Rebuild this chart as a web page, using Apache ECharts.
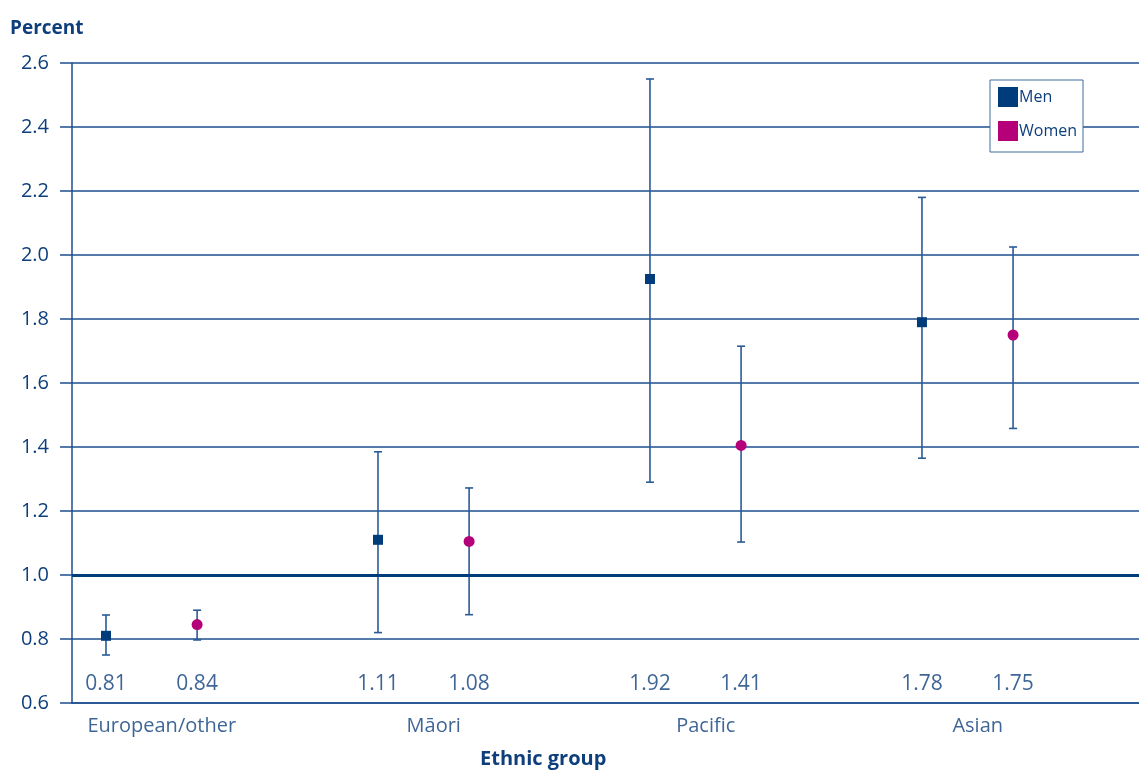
<!DOCTYPE html>
<html>
<head>
<meta charset="utf-8">
<script src="https://cdn.jsdelivr.net/npm/echarts@6/dist/echarts.min.js"></script>
<style>
  html, body { margin: 0; padding: 0; background: #fff; }
  #chart { width: 1139px; height: 772px; }
</style>
</head>
<body>
<div id="chart"></div>
<script>
// data
const categories = ["European/other", "Māori", "Pacific", "Asian"];
const menValues = [0.81, 1.11, 1.925, 1.79];
const menLow = [0.75, 0.82, 1.29, 1.365];
const menHigh = [0.875, 1.385, 2.55, 2.18];
const menLabels = ["0.81", "1.11", "1.92", "1.78"];
const womenValues = [0.845, 1.105, 1.405, 1.75];
const womenLow = [0.797, 0.876, 1.103, 1.458];
const womenHigh = [0.89, 1.272, 1.715, 2.025];
const womenLabels = ["0.84", "1.08", "1.41", "1.75"];
const yTicks = [0.6, 0.8, 1.0, 1.2, 1.4, 1.6, 1.8, 2.0, 2.2, 2.4, 2.6];

const navy = "#003b7c";
const magenta = "#b5007a";
const lineBlue = "#1d4f8e";
const textBlue = "#0e3f7c";
const font = "Open Sans";

const menOff = -0.165, womenOff = 0.17;

function errData(vals, low, high, off) {
  return vals.map((v, i) => [i + off, low[i], high[i]]);
}

function errorBar(params, api) {
  const x = api.value(0);
  const lo = api.coord([x, api.value(1)]);
  const hi = api.coord([x, api.value(2)]);
  const w = 4;
  const style = { stroke: "#2a5b96", lineWidth: 1.6 };
  return {
    type: "group",
    children: [
      { type: "line", shape: { x1: lo[0], y1: lo[1], x2: hi[0], y2: hi[1] }, style },
      { type: "line", shape: { x1: lo[0] - w, y1: lo[1], x2: lo[0] + w, y2: lo[1] }, style },
      { type: "line", shape: { x1: hi[0] - w, y1: hi[1], x2: hi[0] + w, y2: hi[1] }, style }
    ]
  };
}

const chart = echarts.init(document.getElementById("chart"));
const option = {
  animation: false,
  textStyle: { fontFamily: font },
  grid: { left: 72, right: 0, top: 63, bottom: 69 },
  legend: {
    orient: "vertical",
    left: 990,
    top: 80,
    padding: [7, 6, 11, 8],
    itemGap: 14,
    itemWidth: 20,
    itemHeight: 20,
    borderColor: "#3f6aa0",
    borderWidth: 1,
    backgroundColor: "#fff",
    textStyle: { color: textBlue, fontSize: 16, fontFamily: font, padding: [0, 0, 0, -4] },
    data: [
      { name: "Men", icon: "rect", itemStyle: { color: navy } },
      { name: "Women", icon: "rect", itemStyle: { color: magenta } }
    ]
  },
  xAxis: {
    type: "value",
    min: -0.29,
    max: 3.633,
    axisLine: { show: true, onZero: false, lineStyle: { color: lineBlue, width: 1.5 } },
    axisTick: { show: false },
    axisLabel: { show: false },
    splitLine: { show: false }
  },
  yAxis: {
    type: "value",
    name: "Percent",
    nameLocation: "end",
    nameGap: 25,
    nameTextStyle: { color: textBlue, fontSize: 19, fontWeight: "bold", align: "left", padding: [0, 0, 0, -62], fontFamily: font },
    min: yTicks[0],
    max: yTicks[yTicks.length - 1],
    interval: 0.2,
    axisLine: { show: true, onZero: false, lineStyle: { color: lineBlue, width: 1.5 } },
    axisTick: { show: true, inside: false, length: 12, lineStyle: { color: lineBlue, width: 1.5 } },
    axisLabel: { color: textBlue, fontSize: 20, margin: 23, fontFamily: font, formatter: v => v.toFixed(1) },
    splitLine: { show: true, lineStyle: { color: lineBlue, width: 1.5 } }
  },
  series: [
    {
      type: "custom",
      silent: true,
      renderItem: errorBar,
      data: errData(menValues, menLow, menHigh, menOff),
      encode: { x: 0, y: [1, 2] },
      z: 2,
      markLine: {
        silent: true,
        symbol: "none",
        label: { show: false },
        lineStyle: { color: navy, width: 3, type: "solid" },
        data: [{ yAxis: 1.0 }]
      }
    },
    {
      type: "custom",
      silent: true,
      renderItem: errorBar,
      data: errData(womenValues, womenLow, womenHigh, womenOff),
      encode: { x: 0, y: [1, 2] },
      z: 2
    },
    {
      name: "Men",
      type: "scatter",
      symbol: "rect",
      symbolSize: 10,
      itemStyle: { color: navy, opacity: 1 },
      data: menValues.map((v, i) => [i + menOff, v]),
      z: 3
    },
    {
      name: "Women",
      type: "scatter",
      symbol: "circle",
      symbolSize: 11,
      itemStyle: { color: magenta, opacity: 1 },
      data: womenValues.map((v, i) => [i + womenOff, v]),
      z: 3
    },
    {
      // value labels along the bottom
      type: "scatter",
      silent: true,
      symbolSize: 0,
      data: menLabels.map((t, i) => ({ value: [i + menOff, yTicks[0]], name: t }))
        .concat(womenLabels.map((t, i) => ({ value: [i + womenOff, yTicks[0]], name: t }))),
      label: {
        show: true,
        position: "top",
        distance: 8,
        formatter: p => p.name,
        color: textBlue,
        fontSize: 21,
        fontFamily: font
      },
      z: 4
    },
    {
      // category names under the axis
      type: "scatter",
      silent: true,
      symbolSize: 0,
      data: categories.map((c, i) => ({ value: [i + 0.04, yTicks[0]], name: c })),
      label: {
        show: true,
        position: "bottom",
        distance: 13,
        formatter: p => p.name,
        color: textBlue,
        fontSize: 20,
        fontFamily: font
      },
      z: 4
    }
  ],
  graphic: [
    {
      type: "text",
      left: 480,
      top: 749,
      style: { text: "Ethnic group", fill: textBlue, fontSize: 20, fontWeight: "bold", fontFamily: font }
    }
  ]
};
chart.setOption(option);
</script>
</body>
</html>
